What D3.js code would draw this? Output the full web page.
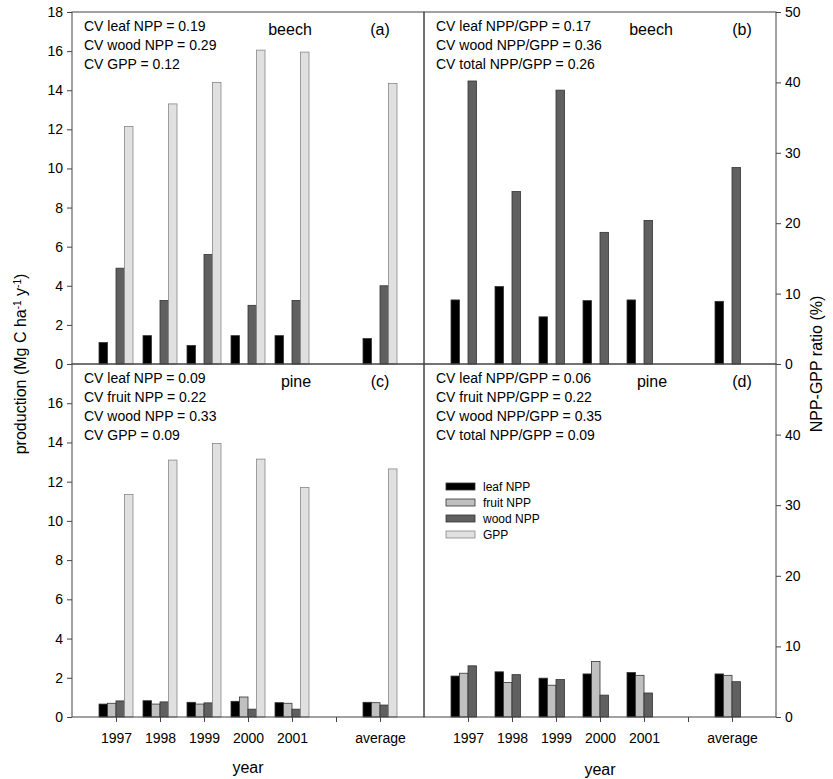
<!DOCTYPE html>
<html>
<head>
<meta charset="utf-8">
<script src="https://cdn.jsdelivr.net/npm/d3@7"></script>
<style>
  body { margin: 0; background: #fff; }
  text { font-family: "Liberation Sans", Arial, sans-serif; fill: #000; }
</style>
</head>
<body>
<svg id="chart" width="833" height="779"></svg>
<script>
// categories (position 6 left empty, as in the original)
var years = ["1997", "1998", "1999", "2000", "2001", "average"];
var slots = [1, 2, 3, 4, 5, 7];
var series = ["leaf NPP", "fruit NPP", "wood NPP", "GPP"];
var colors = ["#000000", "#c0c0c0", "#606060", "#e0e0e0"];

// (a) beech production
var beechLeaf = [1.1, 1.45, 0.95, 1.45, 1.45, 1.3];
var beechWood = [4.9, 3.25, 5.6, 3.0, 3.25, 4.0];
var beechGPP  = [12.15, 13.3, 14.4, 16.05, 15.95, 14.35];
// (b) beech ratios
var beechLeafR = [9.1, 11.0, 6.7, 9.0, 9.1, 8.9];
var beechWoodR = [40.2, 24.5, 38.9, 18.7, 20.4, 27.9];
// (c) pine production
var pineLeaf  = [0.66, 0.83, 0.75, 0.8, 0.73, 0.75];
var pineFruit = [0.7, 0.66, 0.66, 1.02, 0.7, 0.73];
var pineWood  = [0.82, 0.77, 0.72, 0.4, 0.4, 0.61];
var pineGPP   = [11.35, 13.1, 13.95, 13.15, 11.7, 12.65];
// (d) pine ratios
var pineLeafR  = [5.8, 6.4, 5.5, 6.1, 6.3, 6.1];
var pineFruitR = [6.2, 4.9, 4.5, 7.85, 5.9, 5.9];
var pineWoodR  = [7.25, 6.0, 5.3, 3.1, 3.4, 5.0];

var svg = d3.select("#chart");
var L = 72, M = 424, R = 776, T = 12, C = 364, B = 717;
var bw = 8.5;

var panels = [
  { x0: L, x1: M, y0: T, y1: C, max: 18, data: [beechLeaf, null, beechWood, beechGPP],
    label: "beech", tag: "(a)", lx: 290, tx: 380,
    cv: ["CV leaf NPP = 0.19", "CV wood NPP = 0.29", "CV GPP = 0.12"] },
  { x0: M, x1: R, y0: T, y1: C, max: 50, data: [beechLeafR, null, beechWoodR, null],
    label: "beech", tag: "(b)", lx: 651, tx: 742,
    cv: ["CV leaf NPP/GPP = 0.17", "CV wood NPP/GPP = 0.36", "CV total NPP/GPP = 0.26"] },
  { x0: L, x1: M, y0: C, y1: B, max: 18, data: [pineLeaf, pineFruit, pineWood, pineGPP],
    label: "pine", tag: "(c)", lx: 296, tx: 380,
    cv: ["CV leaf NPP = 0.09", "CV fruit NPP = 0.22", "CV wood NPP = 0.33", "CV GPP = 0.09"] },
  { x0: M, x1: R, y0: C, y1: B, max: 50, data: [pineLeafR, pineFruitR, pineWoodR, null],
    label: "pine", tag: "(d)", lx: 652, tx: 742,
    cv: ["CV leaf NPP/GPP = 0.06", "CV fruit NPP/GPP = 0.22", "CV wood NPP/GPP = 0.35", "CV total NPP/GPP = 0.09"] }
];

panels.forEach(function(p, pi) {
  var x = d3.scaleLinear().domain([0, 8]).range([p.x0, p.x1]);
  var y = d3.scaleLinear().domain([0, p.max]).range([p.y1, p.y0]);
  var g = svg.append("g");

  p.data.forEach(function(vals, si) {
    if (!vals) return;
    g.selectAll(null).data(vals).enter().append("rect")
      .attr("x", function(d, i) { return x(slots[i]) - 2 * bw + si * bw; })
      .attr("y", function(d) { return y(d); })
      .attr("width", bw)
      .attr("height", function(d) { return y(0) - y(d); })
      .attr("fill", colors[si])
      .attr("stroke", si === 3 ? "#888" : "#333")
      .attr("stroke-width", 0.8);
  });

  // frame
  g.append("rect").attr("x", p.x0).attr("y", p.y0)
    .attr("width", p.x1 - p.x0).attr("height", p.y1 - p.y0)
    .attr("fill", "none").attr("stroke", "#444").attr("stroke-width", 1);

  // y axis
  var left = pi % 2 === 0;
  var step = p.max === 18 ? 2 : 10;
  var top = pi < 2 ? p.max : p.max - step;
  var tv = d3.range(0, top + 0.01, step);
  var ax = (left ? d3.axisLeft(y) : d3.axisRight(y)).tickValues(tv).tickSize(5).tickPadding(4);
  var ag = g.append("g").attr("transform", "translate(" + (left ? p.x0 : p.x1) + ",0)").call(ax);
  ag.select(".domain").remove();
  ag.selectAll("line").attr("stroke", "#444");
  ag.selectAll("text").style("font-size", "14px")
    .style("font-family", "Liberation Sans, Arial, sans-serif");

  // x axis on bottom panels
  if (pi >= 2) {
    var xa = d3.axisBottom(x).tickValues([1, 2, 3, 4, 5, 6, 7])
      .tickFormat(function(d) { var k = slots.indexOf(d); return k < 0 ? "" : years[k]; })
      .tickSize(5).tickPadding(11);
    var xg = g.append("g").attr("transform", "translate(0," + p.y1 + ")").call(xa);
    xg.select(".domain").remove();
    xg.selectAll("line").attr("stroke", "#444");
    xg.selectAll("text").style("font-size", "14px")
      .style("font-family", "Liberation Sans, Arial, sans-serif");
  }

  // annotations
  p.cv.forEach(function(s, i) {
    g.append("text").attr("x", p.x0 + 12).attr("y", p.y0 + 19 + i * 19)
      .style("font-size", "14px").text(s);
  });
  g.append("text").attr("x", p.lx).attr("y", p.y0 + 23).attr("text-anchor", "middle")
    .style("font-size", "16px").text(p.label);
  g.append("text").attr("x", p.tx).attr("y", p.y0 + 23).attr("text-anchor", "middle")
    .style("font-size", "16px").text(p.tag);
});

// legend
var lg = svg.append("g").attr("transform", "translate(446,483)");
series.forEach(function(s, i) {
  lg.append("rect").attr("x", 0).attr("y", i * 16).attr("width", 29).attr("height", 7)
    .attr("fill", colors[i]).attr("stroke", i === 3 ? "#888" : "#333").attr("stroke-width", 0.8);
  lg.append("text").attr("x", 37).attr("y", i * 16 + 8).style("font-size", "12px").text(s);
});

// axis titles
svg.append("text").attr("transform", "translate(26,364) rotate(-90)").attr("text-anchor", "middle")
  .style("font-size", "16px")
  .html('production (Mg C ha<tspan baseline-shift="super" font-size="10px">-1</tspan> y<tspan baseline-shift="super" font-size="10px">-1</tspan>)');
svg.append("text").attr("transform", "translate(822,364) rotate(-90)").attr("text-anchor", "middle")
  .style("font-size", "16px").text("NPP-GPP ratio (%)");
svg.append("text").attr("x", 248).attr("y", 773).attr("text-anchor", "middle")
  .style("font-size", "16px").text("year");
svg.append("text").attr("x", 600).attr("y", 775).attr("text-anchor", "middle")
  .style("font-size", "16px").text("year");
</script>
</body>
</html>
